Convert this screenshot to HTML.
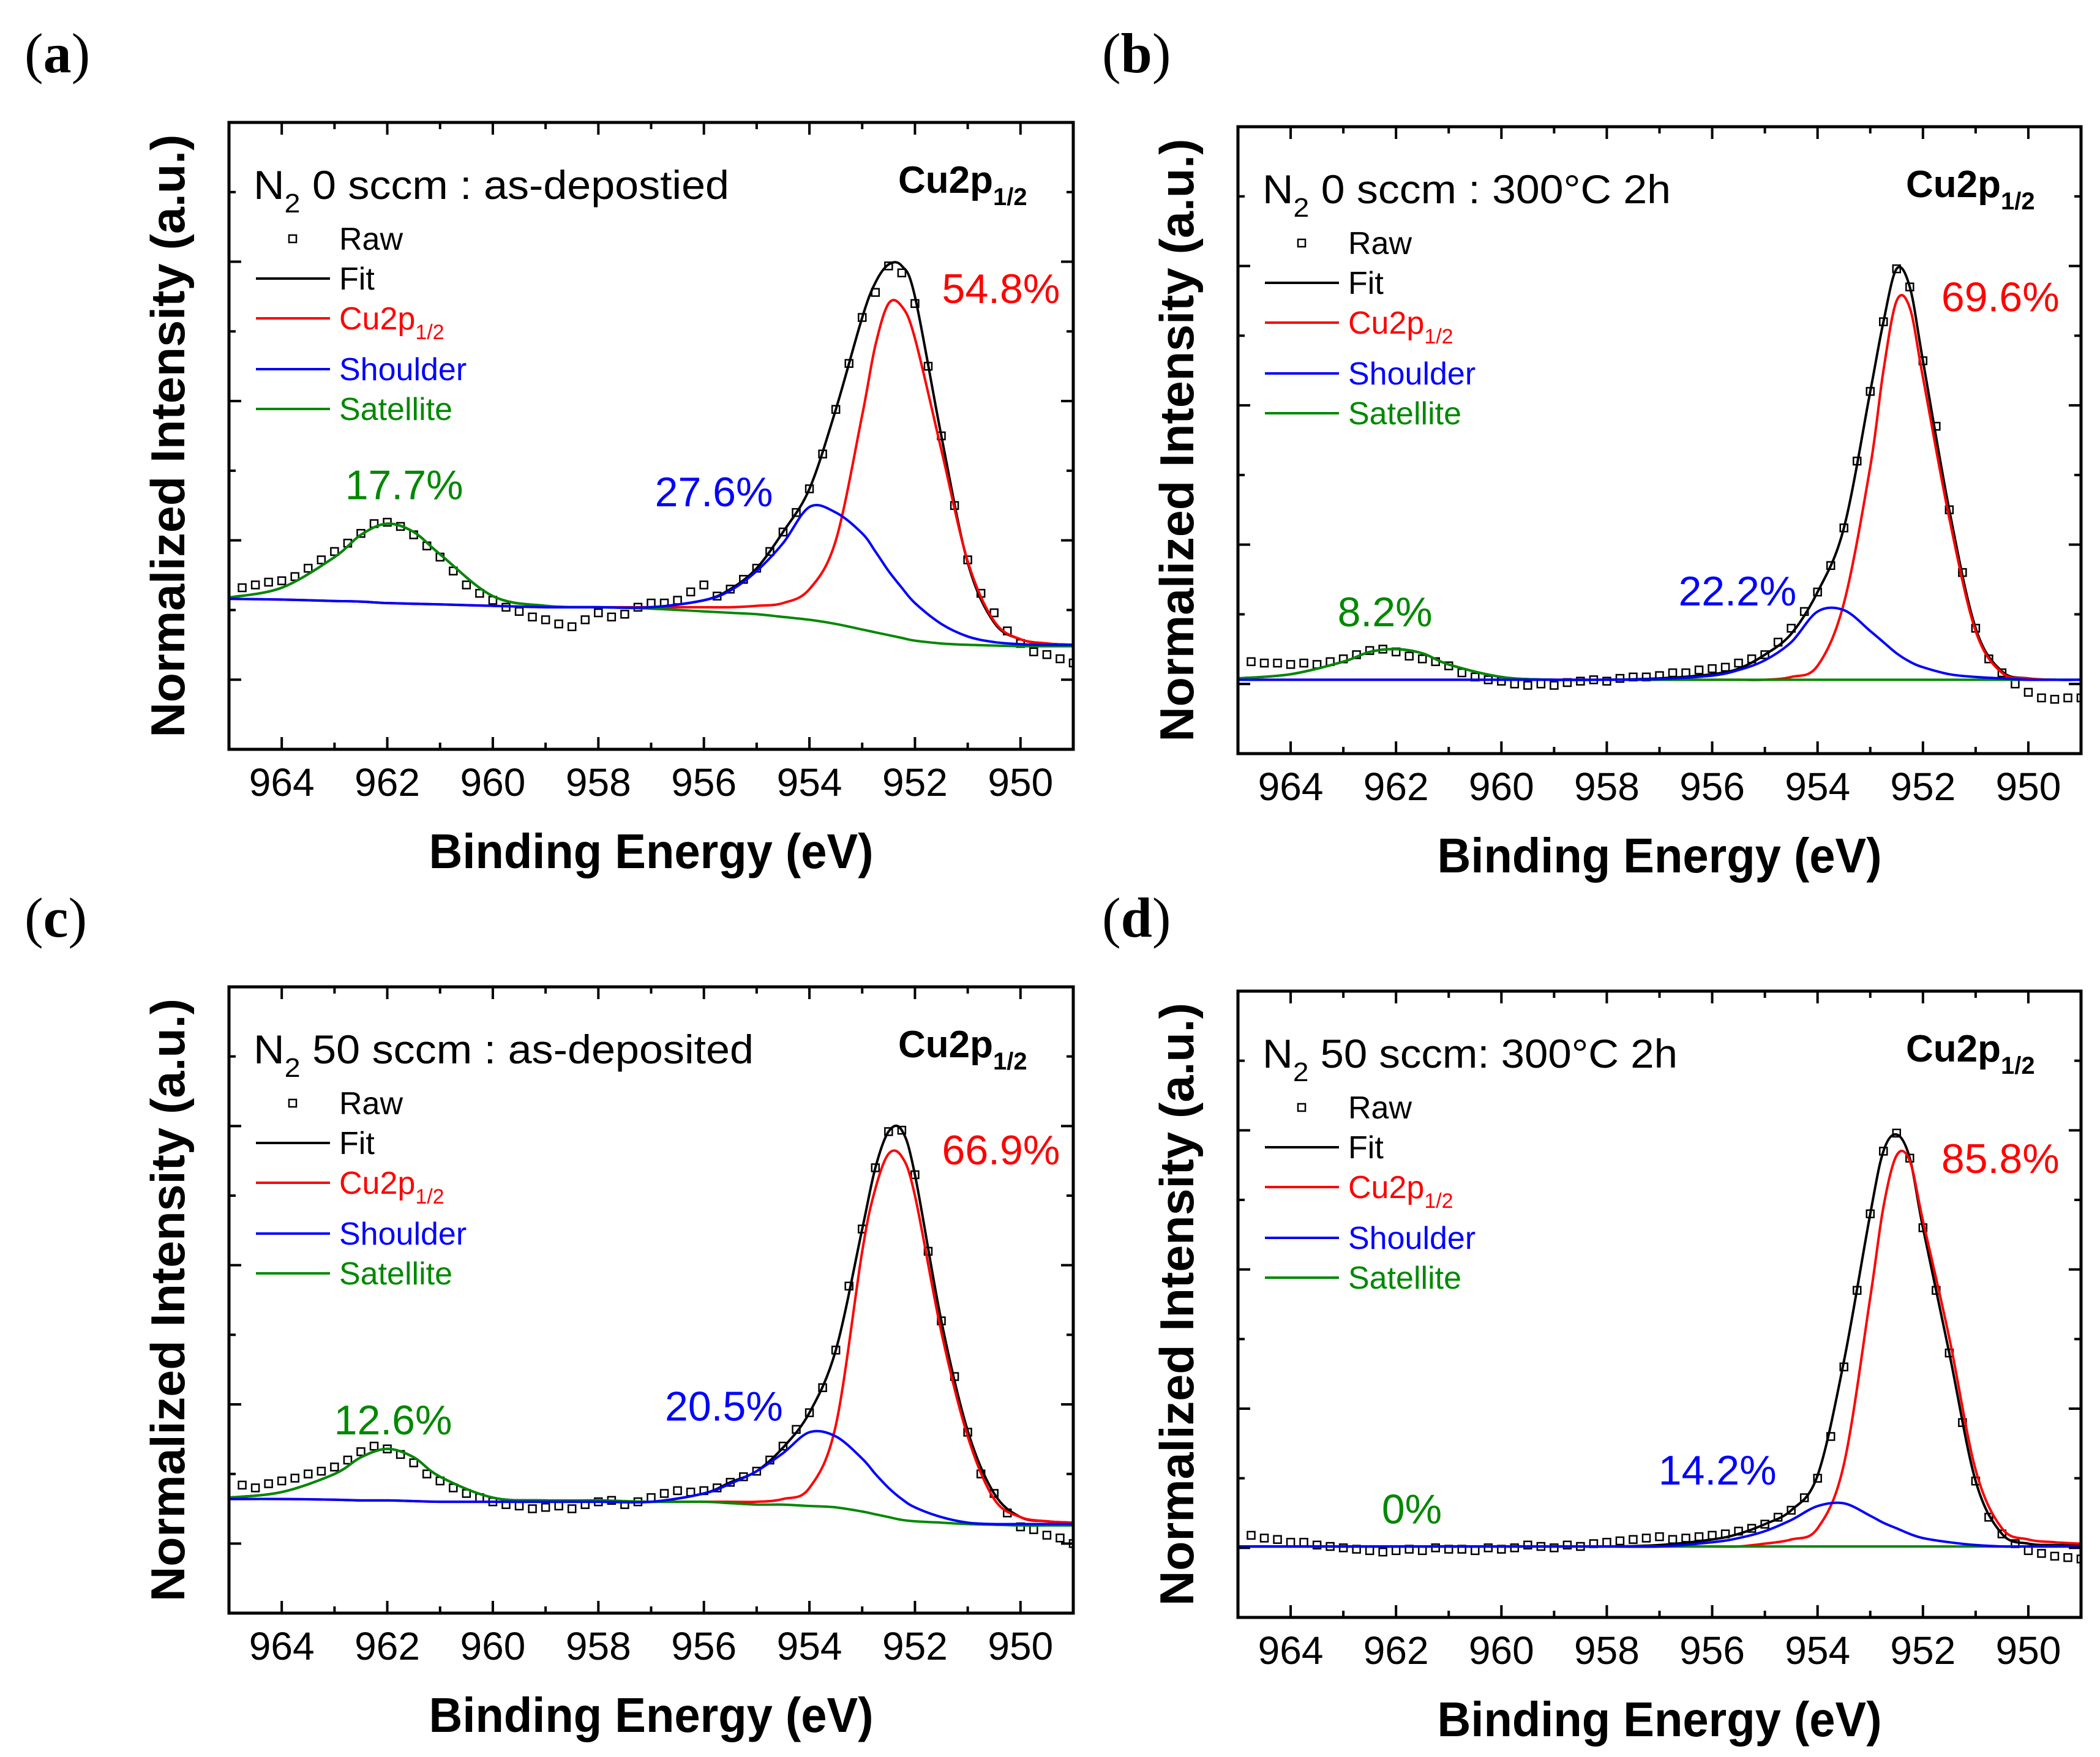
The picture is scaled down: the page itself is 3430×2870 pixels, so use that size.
<!DOCTYPE html>
<html><head><meta charset="utf-8"><title>Cu2p1/2 XPS fits</title>
<style>html,body{margin:0;padding:0;background:#fff}svg{display:block}text{font-family:"Liberation Sans",sans-serif}</style>
</head><body>
<svg id="fig" xmlns="http://www.w3.org/2000/svg" width="3430" height="2870" viewBox="0 0 3430 2870"><rect width="3430" height="2870" fill="#fff"/></svg>
<script>
const curveE = [965,964,963,962.5,962,961.5,961,960,959,958,957,956,955.5,955,954.5,954,953.5,953,952.75,952.5,952.25,952,951.5,951,950.5,950,949.5,949];
const rawE = [964.75,964.5,964.25,964,963.75,963.5,963.25,963,962.75,962.5,962.25,962,961.75,961.5,961.25,961,960.75,960.5,960.25,960,959.75,959.5,959.25,959,958.75,958.5,958.25,958,957.75,957.5,957.25,957,956.75,956.5,956.25,956,955.75,955.5,955.25,955,954.75,954.5,954.25,954,953.75,953.5,953.25,953,952.75,952.5,952.25,952,951.75,951.5,951.25,951,950.75,950.5,950.25,950,949.75,949.5,949.25,949];
const xTicks = [964,962,960,958,956,954,952,950];
const pctLabels = ["54.8%","27.6%","17.7%","69.6%","22.2%","8.2%","66.9%","20.5%","12.6%","85.8%","14.2%","0%"];

const aSat = [0.59,0.66,0.88,1.04,1.12,1.06,0.90,0.60,0.53,0.52,0.51,0.49,0.48,0.47,0.45,0.43,0.40,0.36,0.34,0.32,0.30,0.28,0.26,0.25,0.245,0.24,0.24,0.24];
const aShoulder = [0.58,0.575,0.565,0.56,0.55,0.545,0.54,0.53,0.52,0.52,0.52,0.57,0.64,0.78,0.98,1.24,1.20,1.05,0.92,0.78,0.66,0.55,0.40,0.31,0.27,0.255,0.25,0.25];
const aMain = [0.58,0.575,0.565,0.56,0.55,0.545,0.54,0.53,0.52,0.52,0.52,0.52,0.52,0.53,0.55,0.65,1.0,1.9,2.4,2.70,2.68,2.45,1.65,0.85,0.42,0.29,0.26,0.25];
const aFit = [0.59,0.66,0.88,1.04,1.12,1.06,0.90,0.60,0.53,0.52,0.52,0.57,0.65,0.80,1.06,1.37,1.94,2.60,2.85,2.98,2.97,2.75,1.75,0.84,0.41,0.29,0.26,0.25];
const aRaw = [0.66,0.68,0.70,0.71, 0.74,0.80,0.86,0.92, 0.98,1.05,1.12,1.13, 1.10,1.04,0.96,0.88, 0.78,0.68,0.62,0.57, 0.52,0.49,0.45,0.43, 0.40,0.38,0.43,0.48, 0.45,0.47,0.52,0.55, 0.55,0.57,0.63,0.68, 0.60,0.65,0.72,0.80, 0.92,1.06,1.20,1.37, 1.62,1.94,2.27,2.60, 2.78,2.97,2.92,2.70, 2.25,1.75,1.25,0.86, 0.62,0.48,0.35,0.26, 0.20,0.18,0.15,0.12];

const bSat = [0.04,0.07,0.16,0.23,0.25,0.22,0.14,0.05,0.03,0.03,0.03,0.03,0.03,0.03,0.03,0.03,0.03,0.03,0.03,0.03,0.03,0.03,0.03,0.03,0.03,0.03,0.03,0.03];
const bShoulder = [0.03,0.03,0.03,0.03,0.03,0.03,0.03,0.03,0.03,0.03,0.035,0.06,0.10,0.17,0.30,0.52,0.53,0.38,0.30,0.22,0.16,0.12,0.07,0.05,0.04,0.03,0.03,0.03];
const bMain = [0.03,0.03,0.03,0.03,0.03,0.03,0.03,0.03,0.03,0.03,0.03,0.03,0.03,0.03,0.05,0.13,0.58,1.56,2.25,2.75,2.70,2.20,1.19,0.38,0.08,0.04,0.03,0.03];
const bFit = [0.04,0.07,0.16,0.23,0.25,0.22,0.14,0.05,0.03,0.03,0.04,0.07,0.11,0.21,0.36,0.66,1.12,2.10,2.60,2.98,2.85,2.32,1.25,0.40,0.09,0.04,0.03,0.03];
const bRaw = [0.16,0.15,0.15,0.14, 0.15,0.14,0.16,0.18, 0.21,0.24,0.25,0.23, 0.20,0.18,0.16,0.13, 0.08,0.05,0.03,0.02, 0.00,-0.01,0.00,-0.01, 0.01,0.02,0.03,0.02, 0.04,0.05,0.05,0.06, 0.08,0.08,0.10,0.11, 0.12,0.15,0.18,0.21, 0.30,0.40,0.52,0.66, 0.85,1.12,1.60,2.10, 2.60,2.98,2.85,2.32, 1.85,1.25,0.80,0.40, 0.18,0.08,0.00,-0.06, -0.10,-0.11,-0.10,-0.10];

const cSat = [0.33,0.37,0.50,0.62,0.68,0.62,0.48,0.33,0.31,0.31,0.30,0.30,0.29,0.28,0.28,0.27,0.26,0.23,0.21,0.19,0.17,0.16,0.15,0.14,0.135,0.13,0.13,0.13];
const cShoulder = [0.32,0.32,0.315,0.31,0.31,0.305,0.30,0.30,0.30,0.30,0.30,0.36,0.43,0.52,0.65,0.80,0.77,0.61,0.50,0.40,0.32,0.26,0.19,0.15,0.14,0.14,0.14,0.14];
const cMain = [0.32,0.32,0.315,0.31,0.31,0.305,0.30,0.30,0.30,0.30,0.30,0.30,0.30,0.30,0.32,0.40,0.85,2.1,2.55,2.80,2.78,2.50,1.52,0.77,0.32,0.19,0.16,0.15];
const cFit = [0.33,0.37,0.50,0.62,0.68,0.62,0.48,0.33,0.31,0.31,0.30,0.36,0.44,0.52,0.69,0.94,1.39,2.26,2.70,2.96,2.97,2.65,1.60,0.81,0.36,0.19,0.16,0.15];
const cRaw = [0.42,0.40,0.43,0.45, 0.47,0.50,0.52,0.55, 0.60,0.66,0.70,0.68, 0.64,0.58,0.50,0.45, 0.40,0.36,0.33,0.30, 0.28,0.27,0.25,0.26, 0.27,0.25,0.28,0.30, 0.31,0.28,0.30,0.33, 0.36,0.38,0.37,0.38, 0.40,0.44,0.48,0.52, 0.60,0.70,0.82,0.94, 1.12,1.39,1.85,2.26, 2.70,2.96,2.97,2.65, 2.10,1.60,1.20,0.80, 0.50,0.36,0.22,0.12, 0.10,0.06,0.04,0.00];

const dSat = [0.01,0.01,0.01,0.01,0.01,0.01,0.01,0.01,0.01,0.01,0.01,0.01,0.01,0.01,0.01,0.01,0.01,0.01,0.01,0.01,0.01,0.01,0.01,0.01,0.01,0.01,0.01,0.01];
const dShoulder = [0.01,0.01,0.01,0.01,0.01,0.01,0.01,0.01,0.01,0.01,0.01,0.04,0.07,0.12,0.20,0.30,0.32,0.23,0.18,0.14,0.10,0.07,0.04,0.02,0.01,0.01,0.01,0.01];
const dMain = [0.01,0.01,0.01,0.01,0.01,0.01,0.01,0.01,0.01,0.01,0.01,0.01,0.01,0.03,0.06,0.14,0.60,1.80,2.45,2.82,2.78,2.35,1.51,0.56,0.14,0.06,0.04,0.03];
const dFit = [0.01,0.01,0.01,0.01,0.01,0.01,0.01,0.01,0.01,0.01,0.02,0.06,0.10,0.17,0.27,0.52,1.34,2.40,2.85,2.97,2.80,2.30,1.40,0.48,0.10,0.03,0.02,0.02];
const dRaw = [0.09,0.07,0.06,0.04, 0.04,0.02,0.01,0.00, -0.01,-0.02,-0.03,-0.02, -0.01,-0.02,0.00,-0.01, -0.01,-0.02,0.00,-0.01, 0.00,0.02,0.01,0.00, 0.02,0.01,0.03,0.04, 0.05,0.06,0.07,0.08, 0.06,0.07,0.08,0.09, 0.10,0.12,0.14,0.17, 0.22,0.27,0.36,0.50, 0.80,1.30,1.85,2.40, 2.85,2.98,2.80,2.30, 1.85,1.40,0.90,0.48, 0.22,0.10,0.03,-0.02, -0.04,-0.06,-0.07,-0.08];

const NS = "http://www.w3.org/2000/svg";
const svg = document.getElementById('fig');
function mk(tag, attrs, parent){const e=document.createElementNS(NS,tag);for(const k in attrs)e.setAttribute(k,attrs[k]);(parent||svg).appendChild(e);return e;}

const panels = [
 {id:'a', L:374, R:1753, T:200, B:1224, lx:40, ly:118, title:[' 0 sccm : as-depostied'], tw:777,
  sat:aSat, sh:aShoulder, main:aMain, fit:aFit, raw:aRaw,
  pct:[[0,950.37,2.81,'#f00'],[1,955.81,1.35,'#00f'],[2,961.68,1.40,'#080']]},
 {id:'b', L:2022, R:3399, T:207, B:1231, lx:1800, ly:118, title:[' 0 sccm : 300°C 2h'], tw:667,
  sat:bSat, sh:bShoulder, main:bMain, fit:bFit, raw:bRaw,
  pct:[[3,950.53,2.78,'#f00'],[4,955.52,0.67,'#00f'],[5,962.21,0.52,'#080']]},
 {id:'c', L:374, R:1753, T:1612, B:2635, lx:40, ly:1530, title:[' 50 sccm : as-deposited'], tw:817,
  sat:cSat, sh:cShoulder, main:cMain, fit:cFit, raw:cRaw,
  pct:[[6,950.37,2.83,'#f00'],[7,955.62,0.99,'#00f'],[8,961.89,0.89,'#080']]},
 {id:'d', L:2022, R:3399, T:1619, B:2642, lx:1800, ly:1530, title:[' 50 sccm: 300°C 2h'], tw:678,
  sat:dSat, sh:dShoulder, main:dMain, fit:dFit, raw:dRaw,
  pct:[[9,950.53,2.80,'#f00'],[10,955.90,0.56,'#00f'],[11,961.70,0.28,'#080']]}
];

function pathFor(p, xs, ys){
  const pts = xs.map((E,i)=>[p.sx(E), p.sy(ys[i])]);
  let d = 'M'+pts[0][0].toFixed(1)+','+pts[0][1].toFixed(1);
  for(let i=0;i<pts.length-1;i++){
    const p0=pts[Math.max(0,i-1)], p1=pts[i], p2=pts[i+1], p3=pts[Math.min(pts.length-1,i+2)];
    const c1=[p1[0]+(p2[0]-p0[0])/6, p1[1]+(p2[1]-p0[1])/6];
    const c2=[p2[0]-(p3[0]-p1[0])/6, p2[1]-(p3[1]-p1[1])/6];
    d+=' C'+c1[0].toFixed(1)+','+c1[1].toFixed(1)+' '+c2[0].toFixed(1)+','+c2[1].toFixed(1)+' '+p2[0].toFixed(1)+','+p2[1].toFixed(1);
  }
  return d;
}

panels.forEach(p=>{
  p.sx = E => p.L + (965-E)/(965-949)*(p.R-p.L);
  p.sy = v => p.B - (v+0.5)/4.5*(p.B-p.T);
  const g = mk('g',{});
  
  

  const lab = mk('text',{x:p.lx,y:p.ly,style:'font-family:"Liberation Serif",serif;font-size:92px'},g);
  
  
  lab.innerHTML = '(<tspan font-weight="bold">'+p.id+'</tspan>)';

  const clipId='clip'+p.id;
  const cp = mk('clipPath',{id:clipId},g);
  mk('rect',{x:p.L,y:p.T,width:p.R-p.L,height:p.B-p.T},cp);
  const plot = mk('g',{'clip-path':'url(#'+clipId+')'},g);
  
  

  p.raw.forEach((v,i)=>{
    const r = mk('rect',{x:p.sx(rawE[i])-6,y:p.sy(v)-6,width:12,height:12,fill:'#fff',stroke:'#000','stroke-width':2.5},plot);
    
    
  });
  const series=[['fit-curve',p.fit,'#000'],['cu2p-curve',p.main,'#f00'],['satellite-curve',p.sat,'#080'],['shoulder-curve',p.sh,'#00f']];
  series.forEach(s=>{
    const pa = mk('path',{d:pathFor(p,curveE,s[1]),fill:'none',stroke:s[2],'stroke-width':4,'stroke-linejoin':'round'},plot);
    
    
  });

  const fr = mk('rect',{x:p.L,y:p.T,width:p.R-p.L,height:p.B-p.T,fill:'none',stroke:'#000','stroke-width':5},g);
  
  

  for(let E=964;E>=950;E--){
    const major = (E%2===0);
    const len = major?20:11, x=p.sx(E);
    mk('line',{x1:x,y1:p.B,x2:x,y2:p.B-len,stroke:'#000','stroke-width':4},g);
    mk('line',{x1:x,y1:p.T,x2:x,y2:p.T+len,stroke:'#000','stroke-width':4},g);
  }
  xTicks.forEach(E=>{
    const t = mk('text',{x:p.sx(E),y:p.B+76,'font-size':64,'text-anchor':'middle'},g);
    
    
    t.textContent = E;
  });
  for(let v=0; v<=3.51; v+=0.5){
    const major = (Math.abs(v-Math.round(v))<1e-6);
    const len = major?20:11, y=p.sy(v);
    mk('line',{x1:p.L,y1:y,x2:p.L+len,y2:y,stroke:'#000','stroke-width':4},g);
    mk('line',{x1:p.R,y1:y,x2:p.R-len,y2:y,stroke:'#000','stroke-width':4},g);
  }
  const xt = mk('text',{x:(p.L+p.R)/2,y:p.B+194,'font-size':80,'font-weight':'bold','text-anchor':'middle',textLength:726,lengthAdjust:'spacingAndGlyphs'},g);
  
  
  xt.textContent='Binding Energy (eV)';
  const cy=(p.T+p.B)/2;
  const yt = mk('text',{x:0,y:0,'font-size':78,'font-weight':'bold','text-anchor':'middle',textLength:985,lengthAdjust:'spacingAndGlyphs',transform:'translate('+(p.L-73)+','+cy+') rotate(-90)'},g);
  
  
  yt.textContent='Normalized Intensity (a.u.)';

  const tt = mk('text',{x:p.L+40,y:p.T+125,'font-size':66,textLength:p.tw,lengthAdjust:'spacingAndGlyphs'},g);
  
  
  tt.innerHTML='N<tspan font-size="44" dy="22">2</tspan><tspan dy="-22">'+p.title[0]+'</tspan>';
  const cu = mk('text',{x:p.R-286,y:p.T+115,'font-size':62,'font-weight':'bold'},g);
  
  
  cu.innerHTML='Cu2p<tspan font-size="40" dy="20">1/2</tspan>';

  const leg = mk('g',{},g);
  
  
  const ly=[190,255,320,403,468];
  const items=[['Raw','#000'],['Fit','#000'],['Cu2p','#f00'],['Shoulder','#00f'],['Satellite','#080']];
  items.forEach((it,i)=>{
    const y=p.T+ly[i];
    if(i===0){
      mk('rect',{x:p.L+98,y:y-6,width:12,height:12,fill:'#fff',stroke:'#000','stroke-width':2.5},leg);
    } else {
      mk('line',{x1:p.L+44,y1:y,x2:p.L+165,y2:y,stroke:it[1],'stroke-width':4},leg);
    }
    const t = mk('text',{x:p.L+180,y:y+18,'font-size':52,fill:it[1]},leg);
    
    
    if(i===2) t.innerHTML='Cu2p<tspan font-size="34" dy="16">1/2</tspan>'; else t.textContent=it[0];
  });

  p.pct.forEach(q=>{
    const t = mk('text',{x:p.sx(q[1]),y:p.sy(q[2])+24,'font-size':68,'text-anchor':'middle',fill:q[3]},g);
    
    
    t.textContent = pctLabels[q[0]];
  });
});
</script>
</body></html>
